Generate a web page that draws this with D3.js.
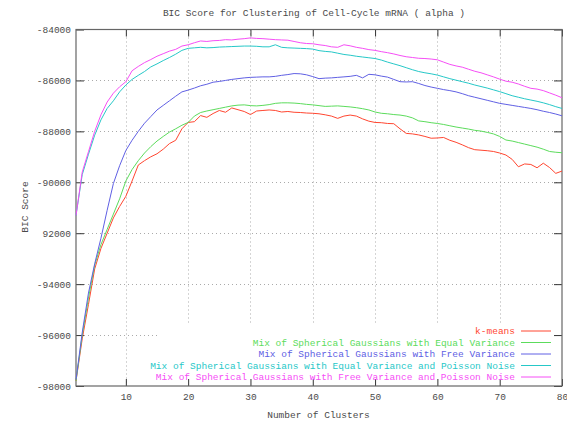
<!DOCTYPE html>
<html>
<head>
<meta charset="utf-8">
<script src="https://cdn.jsdelivr.net/npm/d3@7"></script>
<style>
html,body{margin:0;padding:0;background:#fff;}
svg{display:block;}
text{font-family:"Liberation Mono","DejaVu Sans Mono",monospace;font-size:9.5px;}
</style>
</head>
<body>
<svg id="chart" width="567" height="422"></svg>
<script>
const titleText = "BIC Score for Clustering of Cell-Cycle mRNA ( alpha )";
const xTitle = "Number of Clusters";
const yTitle = "BIC Score";
const xTicks = [10, 20, 30, 40, 50, 60, 70, 80];
const yTicks = [-84000, -86000, -88000, -90000, -92000, -94000, -96000, -98000];
const yTickLabels = ["-84000", "-86000", "-88000", "-90000", "92000", "-94000", "-96000", "-98000"];
const clusters = d3.range(2, 81);

const seriesNames = [
  "k-means",
  "Mix of Spherical Gaussians with Equal Variance",
  "Mix of Spherical Gaussians with Free Variance",
  "Mix of Spherical Gaussians with Equal Variance and Poisson Noise",
  "Mix of Spherical Gaussians with Free Variance and Poisson Noise"
];
const seriesColors = ["#ff4630", "#5cdc5c", "#6060e4", "#26c8c8", "#f64ef6"];

const kmeans = [
  -97800, -96150, -94800, -93400, -92600, -92000, -91400, -90950, -90550, -89950,
  -89320, -89150, -89000, -88880, -88700, -88480, -88350, -87900, -87650, -87620,
  -87380, -87450, -87300, -87180, -87250, -87080, -87150, -87220, -87340, -87200,
  -87180, -87160, -87180, -87240, -87220, -87250, -87260, -87280, -87290, -87310,
  -87350, -87400, -87490, -87400, -87360, -87400, -87510, -87600, -87650, -87660,
  -87690, -87700, -87900, -88080, -88100, -88140, -88200, -88270, -88260, -88240,
  -88350, -88430, -88530, -88640, -88720, -88740, -88760, -88790, -88850, -88930,
  -89100, -89390, -89280, -89300, -89430, -89250, -89420, -89650, -89560
];
const equalVar = [
  -97800, -96000, -94550, -93250, -92450, -91850, -91250, -90650, -89950, -89500,
  -89150, -88850, -88600, -88380, -88200, -88030, -87900, -87760, -87650, -87400,
  -87260, -87200, -87150, -87100, -87050, -87000, -86970, -86960, -86990, -87000,
  -86980, -86950, -86900, -86880, -86880, -86890, -86910, -86940, -86960, -86990,
  -87020, -87010, -87000, -87020, -87040, -87070, -87110, -87160, -87240, -87290,
  -87310, -87340, -87360, -87400, -87470, -87590, -87620, -87660, -87690, -87730,
  -87780, -87830, -87870, -87910, -87960, -87990, -88040, -88100, -88200, -88340,
  -88380, -88440, -88500, -88560, -88620, -88700, -88790, -88820, -88840
];
const freeVar = [
  -97750, -95900, -94350, -93200, -92200, -91100, -90050, -89350, -88750, -88350,
  -88000, -87680, -87420, -87160, -86980, -86800, -86620, -86450, -86380, -86300,
  -86210, -86150, -86070, -86040, -86000, -85960, -85930, -85900, -85880, -85870,
  -85860, -85860, -85840, -85800, -85770, -85730, -85740, -85780, -85850, -85930,
  -85910, -85900, -85880, -85860, -85840, -85800, -85900, -85760, -85780, -85830,
  -85870, -85960, -86050, -86060, -86050, -86120, -86200, -86260, -86310, -86360,
  -86400, -86450, -86520, -86600, -86660, -86720, -86780, -86840, -86900, -86940,
  -86980, -87020, -87060, -87100, -87150, -87210, -87260, -87320, -87390
];
const equalVarPoisson = [
  -91300, -89700, -88900, -88150, -87550, -87100, -86800, -86450, -86180, -85960,
  -85800, -85650, -85470, -85350, -85220, -85100, -84970, -84820, -84740, -84720,
  -84700, -84720, -84710, -84690, -84680, -84670, -84660, -84650, -84650, -84660,
  -84680, -84680, -84600, -84700, -84720, -84730, -84740, -84750, -84770, -84830,
  -84860, -84880, -84930, -84980, -85010, -85050, -85080, -85110, -85140, -85200,
  -85280, -85350, -85420, -85500, -85580, -85650, -85700, -85740, -85790, -85860,
  -85930, -85990, -86050, -86110, -86180, -86240, -86300, -86370, -86440, -86520,
  -86600, -86660, -86720, -86770, -86820, -86880, -86950, -87030, -87100
];
const freeVarPoisson = [
  -91300, -89600, -88800, -88000, -87350, -86850, -86500, -86250, -86050, -85620,
  -85450, -85300, -85180, -85050, -84950, -84850, -84780, -84650, -84600, -84520,
  -84450, -84470, -84440, -84430, -84400, -84410, -84380, -84360, -84330, -84350,
  -84360, -84380, -84400, -84410, -84420, -84470, -84520, -84550, -84560, -84600,
  -84630, -84680, -84700, -84600, -84640, -84700, -84740, -84790, -84820, -84870,
  -84910, -84960, -85020, -85070, -85100, -85130, -85140, -85160, -85190, -85280,
  -85370, -85430, -85480, -85560, -85640, -85700, -85780, -85860, -85950, -86030,
  -86070, -86140, -86230, -86310, -86340, -86400, -86490, -86580, -86680
];
const seriesValues = [kmeans, equalVar, freeVar, equalVarPoisson, freeVarPoisson];

const svg = d3.select("#chart");
const L = 76, R = 562, T = 29.5, B = 386;
const x = d3.scaleLinear().domain([2, 80]).range([L, R]);
const y = d3.scaleLinear().domain([-98000, -84000]).range([B, T]);
const textColor = "#4a4a4a";

// grid
const grid = svg.append("g").attr("stroke", "#aaaaaa").attr("stroke-width", 1)
  .attr("stroke-dasharray", "1,3");
xTicks.filter(v => v > 2 && v < 80).forEach(v => {
  grid.append("line").attr("x1", Math.round(x(v)) + 0.5).attr("x2", Math.round(x(v)) + 0.5)
    .attr("y1", T).attr("y2", B);
});
yTicks.filter(v => v > -98000 && v < -84000).forEach(v => {
  grid.append("line").attr("x1", L).attr("x2", R)
    .attr("y1", Math.round(y(v)) + 0.5).attr("y2", Math.round(y(v)) + 0.5);
});

// legend background (hides grid behind key)
svg.append("rect").attr("x", 157).attr("y", 323).attr("width", R - 157).attr("height", B - 323)
  .attr("fill", "#fff");

// axes with inward ticks, mirrored on top and right
const gx = svg.append("g").attr("transform", `translate(0,${B})`)
  .call(d3.axisBottom(x).tickValues(xTicks).tickSize(-7).tickPadding(7).tickFormat(d3.format("d")));
const gxTop = svg.append("g").attr("transform", `translate(0,${T})`)
  .call(d3.axisTop(x).tickValues(xTicks).tickSize(-7).tickFormat(""));
const gy = svg.append("g").attr("transform", `translate(${L},0)`)
  .call(d3.axisLeft(y).tickValues(yTicks).tickSize(-8).tickPadding(5)
    .tickFormat((d, i) => yTickLabels[i]));
const gyR = svg.append("g").attr("transform", `translate(${R},0)`)
  .call(d3.axisRight(y).tickValues(yTicks).tickSize(-8).tickFormat(""));
[gx, gxTop, gy, gyR].forEach(g => {
  g.select(".domain").remove();
  g.selectAll(".tick line").attr("stroke", "#333");
  g.selectAll("text").attr("fill", textColor).style("font-size", "9.5px")
    .style("font-family", "'Liberation Mono', 'DejaVu Sans Mono', monospace");
});

// border
svg.append("rect").attr("x", L).attr("y", T).attr("width", R - L).attr("height", B - T)
  .attr("fill", "none").attr("stroke", "#666").attr("stroke-width", 1.2);

// lines
const line = d3.line().x((d, i) => x(clusters[i])).y(d => y(d));
seriesValues.forEach((vals, i) => {
  svg.append("path").datum(vals).attr("d", line).attr("fill", "none")
    .attr("stroke", seriesColors[i]).attr("stroke-width", 1);
});

// legend
const legY0 = 331, legDy = 11.5;
seriesNames.forEach((name, i) => {
  const yy = legY0 + i * legDy;
  svg.append("text").attr("x", 515).attr("y", yy).attr("dy", "0.35em")
    .attr("text-anchor", "end").attr("fill", seriesColors[i]).text(name);
  svg.append("line").attr("x1", 521).attr("x2", 551).attr("y1", yy).attr("y2", yy)
    .attr("stroke", seriesColors[i]).attr("stroke-width", 1);
});

// titles
svg.append("text").attr("x", 314).attr("y", 13).attr("dy", "0.35em").attr("text-anchor", "middle")
  .attr("fill", textColor).text(titleText);
svg.append("text").attr("x", 318.5).attr("y", 415).attr("dy", "0.35em").attr("text-anchor", "middle")
  .attr("fill", textColor).text(xTitle);
svg.append("text").attr("transform", "translate(25,207) rotate(-90)").attr("dy", "0.35em")
  .attr("text-anchor", "middle").attr("fill", textColor).text(yTitle);
</script>
</body>
</html>
